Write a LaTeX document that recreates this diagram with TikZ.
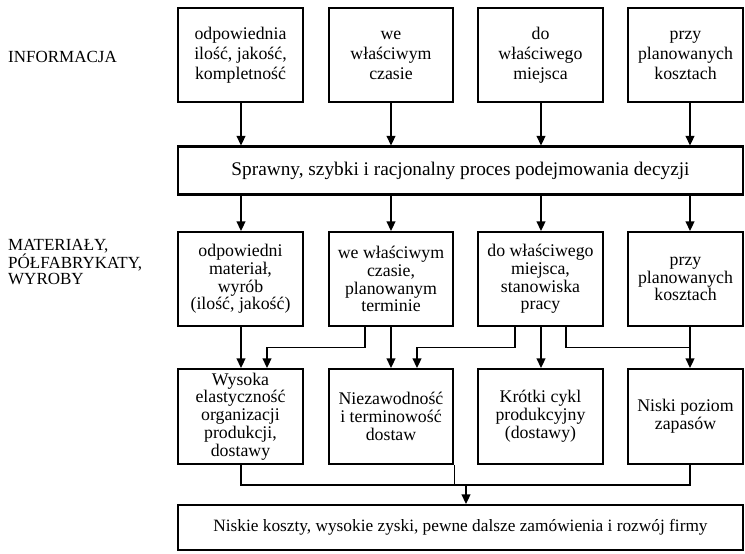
\documentclass[tikz,border=0pt]{standalone}
\usepackage{fontspec}
\setmainfont{Liberation Serif}
\usetikzlibrary{arrows.meta}
\begin{document}
\begin{tikzpicture}[x=1pt,y=-1pt,
  box/.style={draw, line width=2.3pt, align=center, inner sep=2pt,
    font=\fontsize{17.8pt}{17.8pt}\selectfont},
  topbox/.style={box, font=\fontsize{17.8pt}{20pt}\selectfont},
  widebox/.style={box, minimum width=565},
  sidelabel/.style={align=left, inner sep=0pt,
    font=\fontsize{17pt}{16pt}\selectfont},
  conn/.style={line width=1.3pt},
  arr/.style={conn, -{Triangle[width=9pt,length=9.5pt]}}]
\useasboundingbox (0,0) rectangle (745,554);

% column positions used by the connectors
\coordinate (c1) at (241,0);
\coordinate (c2) at (391,0);
\coordinate (c3) at (541,0);
\coordinate (c4) at (690,0);
\coordinate (xa) at (365,0);
\coordinate (xb) at (267,0);
\coordinate (xc) at (515,0);
\coordinate (xd) at (417,0);
\coordinate (xe) at (566,0);
\coordinate (xm) at (466,0);
\coordinate (jy) at (0,347.5);
\coordinate (cy) at (0,485);

% side labels
\node[sidelabel, anchor=west] (linfo) at (8,57) {INFORMACJA};
\node[sidelabel, anchor=west] (lmat) at (8,262) {MATERIAŁY,\\PÓŁFABRYKATY,\\WYROBY};

% information row
\node[topbox, minimum width=125, minimum height=94] (t1) at (240.5,55) {odpowiednia\\ilość, jakość,\\kompletność};
\node[topbox, minimum width=124, minimum height=94] (t2) at (391,55) {we\\właściwym\\czasie};
\node[topbox, minimum width=125, minimum height=94] (t3) at (540.5,55) {do\\właściwego\\miejsca};
\node[topbox, minimum width=115, minimum height=94] (t4) at (685.5,55) {przy\\planowanych\\kosztach};

% decision process
\node[widebox, minimum height=48, font=\fontsize{19.3pt}{20pt}\selectfont] (dec) at (460.5,170.5) {Sprawny, szybki i racjonalny proces podejmowania decyzji};

% materials row
\node[box, minimum width=125, minimum height=94] (m1) at (240.5,279) {odpowiedni\\materiał,\\wyrób\\(ilość, jakość)};
\node[box, minimum width=124, minimum height=94] (m2) at (391,279) {we właściwym\\czasie,\\planowanym\\terminie};
\node[box, minimum width=125, minimum height=94] (m3) at (540.5,279) {do właściwego\\miejsca,\\stanowiska\\pracy};
\node[box, minimum width=115, minimum height=94] (m4) at (685.5,279) {przy\\planowanych\\kosztach};

% effects row
\node[box, minimum width=125, minimum height=95] (r1) at (240.5,416.5) {Wysoka\\elastyczność\\organizacji\\produkcji,\\dostawy};
\node[box, minimum width=124, minimum height=95] (r2) at (391,416.5) {Niezawodność\\i terminowość\\dostaw};
\node[box, minimum width=125, minimum height=95] (r3) at (540.5,416.5) {Krótki cykl\\produkcyjny\\(dostawy)};
\node[box, minimum width=115, minimum height=95] (r4) at (685.5,416.5) {Niski poziom\\zapasów};

% final result
\node[widebox, minimum height=45, font=\fontsize{17.3pt}{18pt}\selectfont] (fin) at (460.5,527.5) {Niskie koszty, wysokie zyski, pewne dalsze zamówienia i rozwój firmy};

% information -> decision -> materials
\foreach \i in {1,2,3,4} {
  \draw[arr] (t\i.south -| c\i) -- (dec.north -| c\i);
  \draw[arr] (dec.south -| c\i) -- (m\i.north -| c\i);
}

% materials -> effects
\draw[arr] (m1.south -| c1) -- (r1.north -| c1);
\draw[arr] (m2.south -| xa) |- (jy -| xb) -- (r1.north -| xb);
\draw[arr] (m2.south -| c2) -- (r2.north -| c2);
\draw[arr] (m3.south -| xc) |- (jy -| xd) -- (r2.north -| xd);
\draw[arr] (m3.south -| c3) -- (r3.north -| c3);
\draw[conn] (m3.south -| xe) |- (jy -| c4);
\draw[arr] (m4.south -| c4) -- (r4.north -| c4);

% effects -> final result
\draw[conn] (r1.south -| c1) |- (cy -| c4) -- (r4.south -| c4);
\draw[conn] (r2.south east) -- (r2.south east |- cy);
\draw[arr] (cy -| xm) -- (fin.north -| xm);
\end{tikzpicture}
\end{document}
